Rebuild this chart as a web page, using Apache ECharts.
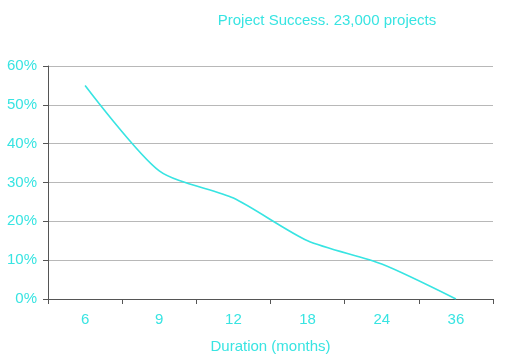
<!DOCTYPE html>
<html><head><meta charset="utf-8">
<script src="https://cdn.jsdelivr.net/npm/echarts@6/dist/echarts.min.js"></script>
<style>html,body{margin:0;padding:0;background:#fff}#c{width:529px;height:360px}</style>
</head><body><div id="c"></div>
<script>
const categories = ['6', '9', '12', '18', '24', '36'];
const successRate = [55, 33, 26, 15, 9, 0];
const yTicks = [0, 10, 20, 30, 40, 50, 60];

const cyan = '#38e4e2';
const font = 'Liberation Sans, Arial, sans-serif';
const chart = echarts.init(document.getElementById('c'), null, {renderer: 'canvas'});
chart.setOption({
  animation: false,
  backgroundColor: '#fff',
  title: {
    text: 'Project Success. 23,000 projects',
    left: 322, top: 8,
    textAlign: 'center',
    textStyle: {color: cyan, fontSize: 15, fontWeight: 'normal', fontFamily: font}
  },
  grid: {left: 48, right: 36, top: 66, bottom: 61, containLabel: false},
  xAxis: {
    type: 'category',
    data: categories,
    boundaryGap: true,
    name: 'Duration (months)',
    nameLocation: 'middle',
    nameGap: 40,
    nameTextStyle: {color: cyan, fontSize: 15, fontFamily: font},
    axisLine: {lineStyle: {color: '#555', width: 1}},
    axisTick: {show: true, length: 5, lineStyle: {color: '#555'}},
    axisLabel: {color: cyan, fontSize: 15, margin: 13, fontFamily: font}
  },
  yAxis: {
    type: 'value',
    min: yTicks[0], max: yTicks[yTicks.length - 1], interval: 10,
    axisLine: {show: true, lineStyle: {color: '#555', width: 1}},
    axisTick: {show: true, length: 5, lineStyle: {color: '#555'}},
    axisLabel: {color: cyan, fontSize: 15, margin: 11, formatter: '{value}%', fontFamily: font},
    splitLine: {lineStyle: {color: '#b8b8b8', width: 1}}
  },
  series: [{
    type: 'line',
    data: successRate,
    smooth: 0.25,
    symbol: 'none',
    lineStyle: {color: cyan, width: 1.6}
  }]
});
</script></body></html>
